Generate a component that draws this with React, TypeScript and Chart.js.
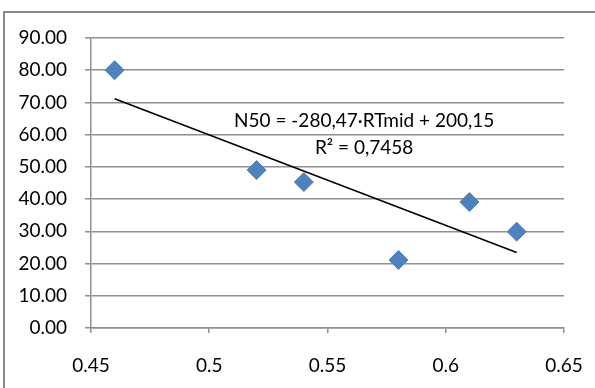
import React, { useEffect, useRef } from "react";
import { Chart, registerables } from "chart.js";

Chart.register(...registerables);

const rtMid = [0.46, 0.52, 0.54, 0.58, 0.61, 0.63];
const n50 = [80.0, 49.0, 45.3, 21.1, 39.1, 29.9];
const trendX = [0.46, 0.63];
const trendY = [71.13, 23.45];
const xTicks = [0.45, 0.5, 0.55, 0.6, 0.65];
const xTickLabels = ["0.45", "0.5", "0.55", "0.6", "0.65"];
const yTicks = [0, 10, 20, 30, 40, 50, 60, 70, 80, 90];
const yTickLabels = ["0.00", "10.00", "20.00", "30.00", "40.00", "50.00", "60.00", "70.00", "80.00", "90.00"];
const equationLines = ["N50 = -280,47·RTmid + 200,15", "R² = 0,7458"];

const FONT = "Lato, 'Open Sans', sans-serif";
const GRID = "#8f8f8f";

const labelPlugin = {
  id: "trendLabel",
  afterDatasetsDraw(chart: any) {
    const { ctx, scales } = chart;
    const x = scales.x.getPixelForValue(0.5655);
    const y1 = scales.y.getPixelForValue(64.4);
    const y2 = scales.y.getPixelForValue(56.0);
    ctx.save();
    ctx.font = `19px ${FONT}`;
    ctx.fillStyle = "#000";
    ctx.textAlign = "center";
    ctx.textBaseline = "middle";
    ctx.fillText(equationLines[0], x, y1);
    ctx.fillText(equationLines[1], x, y2);
    ctx.restore();
  },
};

export default function App() {
  const ref = useRef<HTMLCanvasElement | null>(null);
  useEffect(() => {
    if (!ref.current) return;
    const chart = new Chart(ref.current, {
      type: "scatter",
      data: {
        datasets: [
          {
            type: "line",
            data: trendX.map((x, i) => ({ x, y: trendY[i] })),
            borderColor: "#000",
            borderWidth: 1.6,
            pointRadius: 0,
            fill: false,
            order: 2,
          },
          {
            data: rtMid.map((x, i) => ({ x, y: n50[i] })),
            pointStyle: "rectRot",
            pointRadius: 9.5,
            backgroundColor: "#4F81BD",
            borderColor: "#4F81BD",
            borderWidth: 1,
            order: 1,
          },
        ],
      },
      options: {
        animation: false,
        responsive: false,
        layout: { padding: { left: 0, top: 38, right: 31, bottom: 0 } },
        plugins: { legend: { display: false }, tooltip: { enabled: false } },
        scales: {
          x: {
            type: "linear",
            min: 0.45,
            max: 0.65,
            afterBuildTicks: (s: any) => {
              s.ticks = xTicks.map((v) => ({ value: v }));
            },
            afterFit: (s: any) => {
              s.height = 60;
              s.paddingLeft = 0;
              s.paddingRight = 0;
            },
            ticks: {
              padding: 21,
              color: "#000",
              font: { family: FONT, size: 19 },
              callback: (v: any) => {
                const i = xTicks.findIndex((t) => Math.abs(t - v) < 1e-9);
                return i >= 0 ? xTickLabels[i] : "";
              },
              maxRotation: 0,
            },
            grid: { drawOnChartArea: false, drawTicks: true, tickLength: 5, color: GRID, lineWidth: 1.5 },
            border: { color: GRID, width: 1.5 },
          },
          y: {
            type: "linear",
            min: 0,
            max: 90,
            afterBuildTicks: (s: any) => {
              s.ticks = yTicks.map((v) => ({ value: v }));
            },
            afterFit: (s: any) => {
              s.width = 91;
              s.paddingTop = 0;
              s.paddingBottom = 0;
            },
            ticks: {
              padding: 18,
              color: "#000",
              font: { family: FONT, size: 19 },
              callback: (v: any) => {
                const i = yTicks.findIndex((t) => Math.abs(t - v) < 1e-9);
                return i >= 0 ? yTickLabels[i] : "";
              },
            },
            grid: { drawOnChartArea: true, drawTicks: true, tickLength: 6, color: GRID, lineWidth: 1.5 },
            border: { color: GRID, width: 1.5 },
          },
        },
      },
      plugins: [labelPlugin],
    });
    return () => chart.destroy();
  }, []);

  return (
    <div style={{ position: "absolute", left: 0, top: 0, width: 595, height: 388, overflow: "hidden", background: "#fff" }}>
      <canvas ref={ref} width={595} height={388} style={{ position: "absolute", left: 0, top: 0 }} />
      <div
        style={{
          position: "absolute",
          left: 3,
          top: 11,
          width: 700,
          height: 500,
          borderLeft: "2px solid #8a8a8a",
          borderTop: "2px solid #8a8a8a",
          pointerEvents: "none",
        }}
      />
    </div>
  );
}
